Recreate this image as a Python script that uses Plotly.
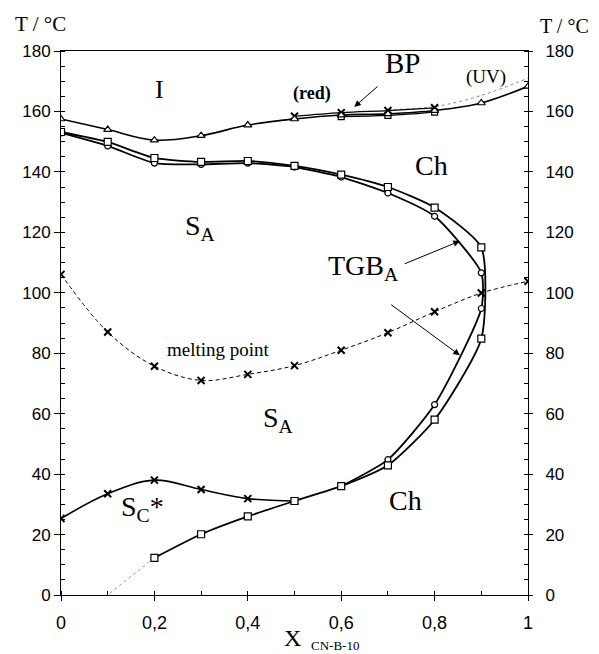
import plotly.graph_objects as go

# ---- data ----
x_bp = [0, 0.1, 0.2, 0.3, 0.4, 0.5, 0.6, 0.7, 0.8, 0.9, 1.0]
t_bp = [157.5, 154.0, 150.5, 152.0, 155.5, 157.5, 158.8, 159.2, 160.3, 162.8, 168.3]

x_bp_star = [0.5, 0.6, 0.7, 0.8]
t_bp_star = [158.4, 159.6, 160.3, 161.2]

x_bp_red = [0.6, 0.7, 0.8]
t_bp_red = [158.3, 158.7, 159.8]

x_uv = [0.7, 0.8, 0.9, 1.0]
t_uv = [160.6, 161.6, 165.3, 171.0]

x_sq = [0, 0.1, 0.2, 0.3, 0.4, 0.5, 0.6, 0.7, 0.8, 0.9, 0.9, 0.8, 0.7, 0.6, 0.5, 0.4, 0.3, 0.2]
t_sq = [153.2, 149.9, 144.6, 143.3, 143.6, 142.0, 139.1, 135.0, 128.2, 115.0,
        84.8, 58.0, 42.9, 36.0, 31.1, 26.0, 20.1, 12.3]

x_ci = [0, 0.1, 0.2, 0.3, 0.4, 0.5, 0.6, 0.7, 0.8, 0.9, 0.9, 0.8, 0.7, 0.6]
t_ci = [152.9, 148.6, 142.9, 142.5, 142.9, 141.6, 138.3, 133.0, 125.3, 106.6, 94.8, 63.0, 44.8, 36.0]

x_melt = [0, 0.1, 0.2, 0.3, 0.4, 0.5, 0.6, 0.7, 0.8, 0.9, 1.0]
t_melt = [106.1, 87.0, 75.7, 71.0, 73.0, 75.9, 81.0, 86.8, 93.7, 99.9, 103.8]

x_sc = [0, 0.1, 0.2, 0.3, 0.4, 0.5]
t_sc = [25.3, 33.5, 38.0, 34.9, 31.9, 31.1]

x_extra = [0.2, 0.1]
t_extra = [12.3, 0.0]

x_ticks = [0, 0.2, 0.4, 0.6, 0.8, 1.0]
x_ticklabels = ["0", "0,2", "0,4", "0,6", "0,8", "1"]
y_ticks = [0, 20, 40, 60, 80, 100, 120, 140, 160, 180]

SERIF = "Liberation Serif, Times New Roman, serif"
SANS = "Liberation Sans, Arial, sans-serif"

# page body has an 8px margin: figure drawn from (8,8)
OFF = 8
W, H = 599 - OFF, 654 - OFF
PL, PR, PT, PB = 61 - OFF, 528 - OFF, 51 - OFF, 595 - OFF  # plot area in figure px

fig = go.Figure()

def mk(symbol, size=7, lw=1.2):
    return dict(symbol=symbol, size=size, color="white", line=dict(color="black", width=lw))

xmark = dict(symbol="x-thin", size=7, color="black", line=dict(color="black", width=2))

# dotted extensions
fig.add_trace(go.Scatter(x=x_uv, y=t_uv, mode="lines", line=dict(color="#888", width=1, dash="dot", shape="spline")))
fig.add_trace(go.Scatter(x=x_extra, y=t_extra, mode="lines", line=dict(color="#999", width=1, dash="dot")))

# melting point
fig.add_trace(go.Scatter(x=x_melt, y=t_melt, mode="lines+markers",
                         line=dict(color="black", width=1, dash="4px,3px", shape="spline", smoothing=1),
                         marker=xmark))

# S_C* line
fig.add_trace(go.Scatter(x=x_sc, y=t_sc, mode="lines+markers",
                         line=dict(color="black", width=1.6, shape="spline", smoothing=1),
                         marker=xmark))

# BP lines
fig.add_trace(go.Scatter(x=x_bp_star, y=t_bp_star, mode="lines+markers",
                         line=dict(color="black", width=1.3, shape="spline"), marker=xmark))
fig.add_trace(go.Scatter(x=x_bp_red, y=t_bp_red, mode="lines+markers",
                         line=dict(color="black", width=1.3, shape="spline"), marker=mk("square", 6)))
fig.add_trace(go.Scatter(x=x_bp, y=t_bp, mode="lines+markers",
                         line=dict(color="black", width=1.6, shape="spline", smoothing=1),
                         marker=mk("triangle-up", 7)))

# main transition curves
fig.add_trace(go.Scatter(x=x_ci, y=t_ci, mode="lines+markers",
                         line=dict(color="black", width=1.8, shape="spline", smoothing=0.6),
                         marker=mk("circle", 6)))
fig.add_trace(go.Scatter(x=x_sq, y=t_sq, mode="lines+markers",
                         line=dict(color="black", width=1.8, shape="spline", smoothing=0.6),
                         marker=mk("square", 7)))

# dummy trace for right axis
fig.add_trace(go.Scatter(x=[0], y=[0], yaxis="y2", mode="markers", marker=dict(opacity=0), hoverinfo="skip"))

ann = []
def txt(x, y, text, size, **kw):
    d = dict(x=x, y=y, xref="x", yref="y", text=text, showarrow=False,
             xanchor="center", yanchor="middle",
             font=dict(family=SERIF, size=size, color="black"))
    d.update(kw)
    ann.append(d)

txt(0.21, 167.2, "I", 26)
txt(0.732, 176.0, "BP", 29)
txt(0.537, 166.0, "<b>(red)</b>", 18)
txt(0.91, 171.3, "(UV)", 19)
txt(0.793, 142.0, "Ch", 28)
txt(0.297, 121.5, "S<sub>A</sub>", 28)
txt(0.647, 108.5, "TGB<sub>A</sub>", 28)
txt(0.338, 81.3, "melting point", 19)
txt(0.464, 58.0, "S<sub>A</sub>", 28)
txt(0.175, 28.5, "S<sub>C</sub>*", 28)
txt(0.737, 31.3, "Ch", 28)

# arrows
for (hx, hy, tx, ty) in [(0.628, 161.5, 0.681, 168.7),
                         (0.854, 117.1, 0.733, 109.4),
                         (0.854, 79.3, 0.704, 96.4)]:
    ann.append(dict(x=hx, y=hy, ax=tx, ay=ty, xref="x", yref="y", axref="x", ayref="y",
                    showarrow=True, arrowhead=2, arrowsize=1.3, arrowwidth=1, arrowcolor="black", text=""))

def px(xp, yp):
    # page pixel -> paper coords
    return (xp - 61) / 467, (595 - yp) / 544

for (xp, yp, t, s) in [(40, 24, "T / °C", 21), (564, 26, "T / °C", 20),
                       (292.5, 638, "X", 24), (335, 645, "CN-B-10", 13)]:
    xx, yy = px(xp, yp)
    ann.append(dict(x=xx, y=yy, xref="paper", yref="paper", text=t, showarrow=False,
                    xanchor="center", yanchor="middle",
                    font=dict(family=SERIF, size=s, color="black")))

fig.update_layout(
    width=W, height=H,
    margin=dict(l=PL, r=W - PR, t=PT, b=H - PB),
    plot_bgcolor="white", paper_bgcolor="white",
    showlegend=False,
    annotations=ann,
    xaxis=dict(range=[0, 1], tickvals=x_ticks, ticktext=x_ticklabels, showgrid=False, zeroline=False,
               showline=True, linecolor="black", linewidth=1, mirror=True,
               ticks="outside", ticklen=5, tickcolor="black",
               minor=dict(ticks="inside", dtick=0.1, ticklen=4, tickcolor="black"),
               tickfont=dict(family=SANS, size=18, color="black"), ticklabelstandoff=6),
    yaxis=dict(range=[0, 180], tickvals=y_ticks, showgrid=False, zeroline=False,
               showline=True, linecolor="black", linewidth=1,
               ticks="outside", ticklen=6, tickcolor="black",
               minor=dict(ticks="inside", dtick=5, ticklen=4, tickcolor="black"),
               tickfont=dict(family=SANS, size=17, color="black"), ticklabelstandoff=0),
    yaxis2=dict(range=[0, 180], tickvals=y_ticks, overlaying="y", side="right", showgrid=False, zeroline=False,
                showline=True, linecolor="black", linewidth=1,
                ticks="outside", ticklen=4, tickcolor="black",
                minor=dict(ticks="inside", dtick=5, ticklen=4, tickcolor="black"),
                tickfont=dict(family=SANS, size=17, color="black"), ticklabelstandoff=9),
)

fig.write_html("out.html")
